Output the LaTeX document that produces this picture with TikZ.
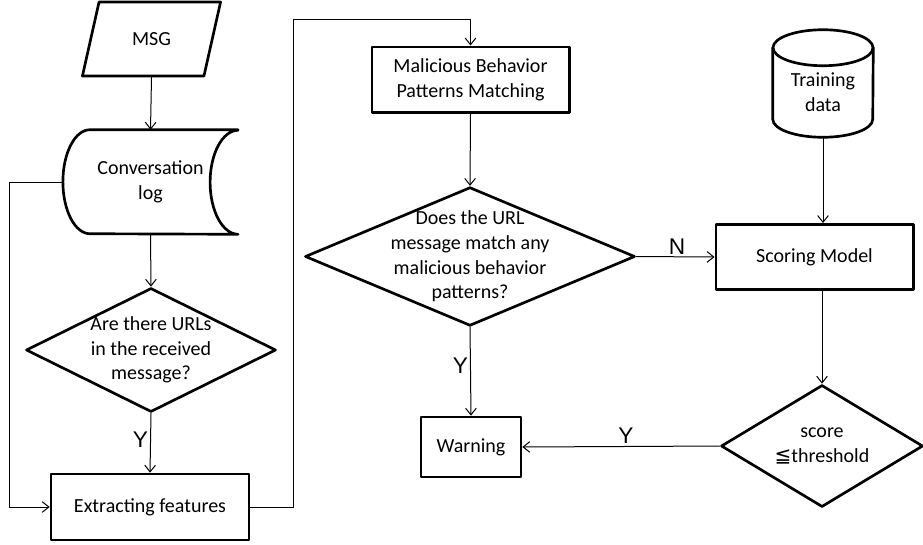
\documentclass[tikz,border=0pt]{standalone}
\usepackage{fontspec}
\setmainfont{Carlito}
\newfontfamily\labfont{Liberation Sans}
\newfontfamily\symfont{DejaVu Sans}
\usepackage{tikz}
\usetikzlibrary{arrows.meta,calc,positioning,shapes.geometric}
\tikzset{
  txt/.style={font=\fontsize{15}{18.5}\selectfont, align=center},
  thickline/.style={line width=2pt},
  procbox/.style={rectangle, draw, thickline, txt},
  decision/.style={diamond, draw, thickline, inner sep=0pt},
  ylab/.style={font=\labfont\fontsize{17}{20}\selectfont, inner sep=1.5pt},
  arr/.style={line width=0.75pt, -{Straight Barb[length=5pt,width=8pt]}},
  every picture/.style={line cap=round, line join=round}
}

\begin{document}
\begin{tikzpicture}[x=0.75pt, y=-0.75pt]
  \useasboundingbox (0,0) rectangle (923,544);
  \node[trapezium, trapezium left angle=71, trapezium right angle=109, trapezium stretches=true,
        draw, thickline, txt, minimum width=104pt, minimum height=55.5pt] (msg) at (151.5,39) {MSG};
  % stored data
  \node[txt, minimum width=131pt, minimum height=78pt] (clog) at (150.5,182) {Conversation\\log};
  \draw[thickline] (clog.north east) -- ($(clog.north west)+(27,0)$)
    arc[start angle=90, end angle=270, x radius=20.25pt, y radius=39pt]
    -- (clog.south east)
    arc[start angle=270, end angle=90, x radius=21pt, y radius=39pt];
  \node[decision, minimum width=187.5pt, minimum height=93pt,
        label={[txt]center:{Are there URLs\\in the received\\message?}}] (urls) at (151,350) {};
  \node[procbox, minimum width=148.5pt, minimum height=49.5pt] (extract) at (150,507) {Extracting features};
  \node[procbox, minimum width=148pt, minimum height=49pt] (patterns) at (470.5,79.5) {Malicious Behavior\\Patterns Matching};
  \node[decision, minimum width=247.5pt, minimum height=104pt,
        label={[txt]center:{Does the URL\\message match any\\malicious behavior\\patterns?}}] (match) at (470,256.5) {};
  % database
  \node[inner sep=0pt, minimum width=75pt, minimum height=80.25pt,
        label={[txt, yshift=-6.5pt]center:{Training\\data}}] (train) at (823,83.5) {};
  \draw[thickline] ($(train.north)+(0,18)$) ellipse[x radius=37.5pt, y radius=13.5pt];
  \draw[thickline] ($(train.north west)+(0,18)$) -- ($(train.south west)+(0,-18)$)
    arc[start angle=180, end angle=360, x radius=37.5pt, y radius=13.5pt]
    -- ($(train.north east)+(0,18)$);
  \node[procbox, minimum width=148pt, minimum height=49pt] (scoring) at (814.5,257) {Scoring Model};
  \node[decision, minimum width=151.5pt, minimum height=91.5pt,
        label={[txt]center:{score\\{\symfont\fontsize{15}{15}\selectfont≦}threshold}}] (score) at (822,446) {};
  \node[procbox, minimum width=75pt, minimum height=45pt] (warn) at (471,447) {Warning};

  \draw[arr] (msg.south) -- (clog.north);
  \draw[arr] (clog.south) -- (urls.north);
  \draw[arr] (urls.south) -- node[ylab, left, pos=0.45] {Y} (extract.north);
  \draw[arr] (clog.west) -- ++(-53,0) |- (extract.west);
  \draw[arr] (extract.east) -- ++(43,0) |- ($(patterns.north)+(0,-26)$) -- (patterns.north);
  \draw[arr] (patterns.south) -- (match.north);
  \draw[arr] (match.east) -- node[ylab, above, pos=0.52] {N} (scoring.west);
  \draw[arr] (train.south) -- (train.south |- scoring.north);
  \draw[arr] (score.north |- scoring.south) -- (score.north);
  \draw[arr] (score.west) -- node[ylab, above, pos=0.475] {Y} (warn.east);
  \draw[arr] (match.south) -- node[ylab, left, pos=0.43] {Y} (warn.north);
\end{tikzpicture}
\end{document}
